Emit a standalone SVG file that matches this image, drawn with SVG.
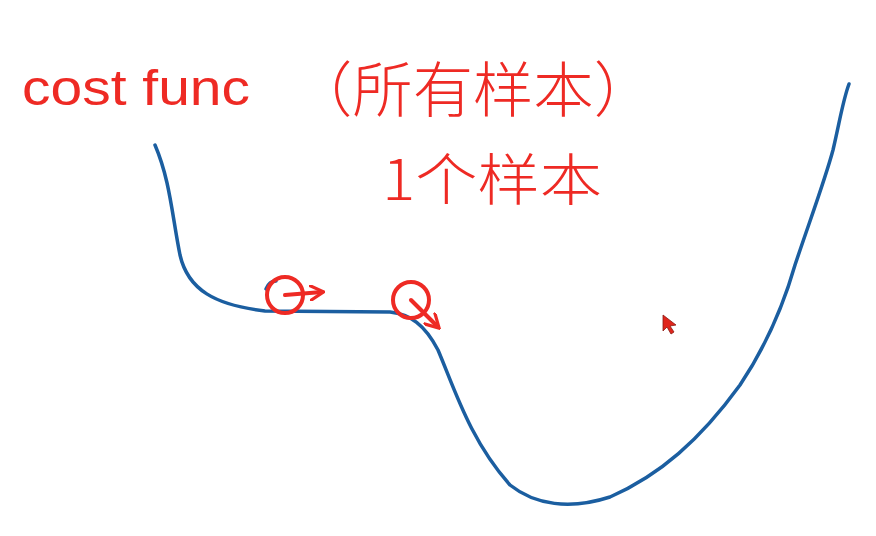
<svg xmlns="http://www.w3.org/2000/svg" width="876" height="536" viewBox="0 0 876 536">
<defs>
<style>
.red{fill:#ee2a24;}
.txt{font-family:"Liberation Sans","Noto Sans CJK SC",sans-serif;fill:#ee2a24;}
.cjk{font-family:"Noto Sans CJK SC",sans-serif;fill:#ee2a24;font-weight:300;}
.rs{fill:none;stroke:#ee2a24;stroke-width:4;stroke-linecap:round;stroke-linejoin:round;}
.curve{fill:none;stroke:#1b5ea0;stroke-width:3.5;stroke-linecap:round;stroke-linejoin:round;}
</style>
<marker id="ah" viewBox="0 0 10 10" refX="8" refY="5" markerWidth="4" markerHeight="4" orient="auto" markerUnits="strokeWidth">
<path d="M0,0 L9,5 L0,10" fill="none" stroke="#ee2a24" stroke-width="2"/>
</marker>
</defs>
<rect width="876" height="536" fill="#ffffff"/>
<g id="title">
<text class="txt" x="22" y="105" font-size="50" textLength="228" lengthAdjust="spacingAndGlyphs">cost func</text>
<text class="cjk" x="292" y="112" font-size="60" textLength="362" lengthAdjust="spacingAndGlyphs">（所有样本）</text>
<text class="cjk" x="382" y="200" font-size="56" textLength="220" lengthAdjust="spacingAndGlyphs">1个样本</text>
</g>
<g id="connectors">
<path class="curve" d="M155,145 C170,180 172,215 180,255 C188,290 215,305 265,311 L390,312 C410,314 425,325 438,350 C455,390 470,440 510,485 C535,505 570,510 610,497 C660,475 700,440 740,385 C770,340 785,300 795,265 C810,220 825,180 833,150 C840,120 843,100 849,84"/>
<path d="M266,289 C268,284 272,281 276,281" fill="none" stroke="#1b5ea0" stroke-width="3.5" stroke-linecap="round"/>
</g>
<g id="ball1">
<circle class="rs" cx="285" cy="295" r="18"/>
<path class="rs" d="M285,295 L322,292" marker-end="url(#ah)"/>
</g>
<g id="ball2">
<circle class="rs" cx="411" cy="300" r="18"/>
<path class="rs" d="M411,300 L438,327" marker-end="url(#ah)"/>
</g>
<g id="cursor">
<path d="M663,315 L663,331 L667,327 L671,334 L674,332 L670,326 L676,325 Z" fill="#e0251c" stroke="#8a1a12" stroke-width="0.8"/>
</g>
</svg>
